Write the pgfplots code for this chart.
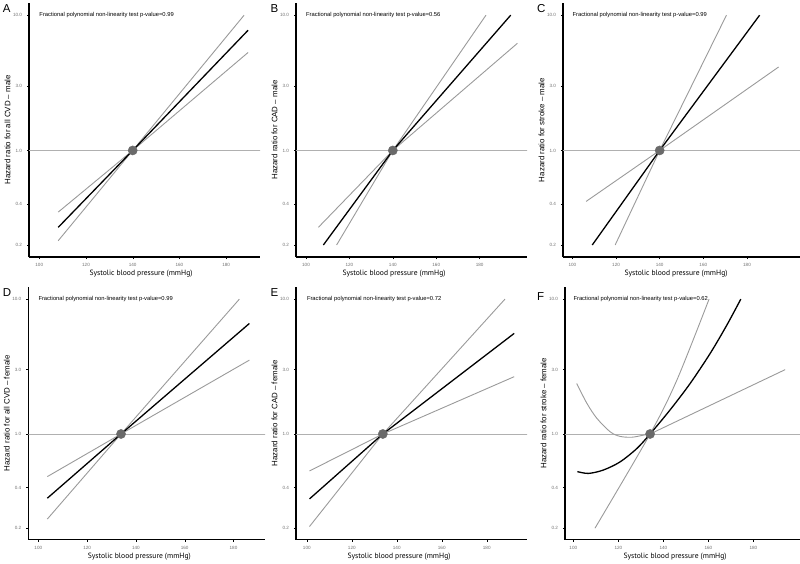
\documentclass[border=0pt]{standalone}
\usepackage{fontspec}
\setmainfont{Liberation Sans}
\newfontfamily\xlabfont{PT Sans}
\usepackage{pgfplots}
\pgfplotsset{compat=1.18}

\definecolor{cilin}{HTML}{9A9A9A}
\definecolor{reflin}{HTML}{B0B0B0}
\definecolor{refdot}{HTML}{6A6A6A}
\definecolor{ticktxt}{HTML}{707070}

\newcommand{\fptext}[1]{\node[anchor=west, inner sep=0pt, font=\fontsize{5.8}{6}\selectfont] at (axis cs:100,10) {Fractional polynomial non-linearity test p-value=#1};}

\pgfplotsset{
  every axis/.append style={
    scale only axis,
    xtick={100,120,140,160,180}, xticklabels={100,120,140,160,180},
    axis x line*=bottom, axis y line*=left,
    axis line style={line width=1.1pt},
    tick align=outside, major tick length=2pt,
    tick style={black, line width=0.4pt},
    ticklabel style={font=\fontsize{4.6}{5}\selectfont, text=ticktxt},
    yticklabel style={xshift=-1.5pt},
    xticklabel style={yshift=-1pt},
  },
  every axis y label/.style={at={(axis description cs:0,0.5)}, xshift=-21.5pt, anchor=center, rotate=90, font=\fontsize{7.9}{9}\selectfont},
  every axis x label/.style={at={(axis description cs:0,0)}, anchor=center, yshift=-17pt, font=\xlabfont\fontsize{7.6}{9}\selectfont},
  refl/.style={reflin, line width=0.9pt},
  cil/.style={cilin, line width=0.9pt},
  est/.style={black, line width=1.3pt},
  refdotst/.style={only marks, mark=*, mark size=4.6pt, mark options={fill=refdot, draw=refdot}},
}

\begin{document}
\begin{tikzpicture}
\useasboundingbox (0pt,0pt) rectangle (800pt,-563pt);

% A
\begin{axis}[anchor=south west, at={(29pt,-257pt)}, width=231pt, height=254pt,
  ymode=log, ymin=0.163, ymax=12.3, ytick={0.2,0.4,1,3,10}, yticklabels={0.2,0.4,1.0,3.0,10.0},
  xmin=95.6, xmax=194.5,
  ylabel={Hazard ratio for all CVD -- male}, xlabel={Systolic blood pressure (mmHg)}, xlabel style={xshift=112pt}]
\addplot[refl] coordinates {(90,1) (210,1)};
\addplot[cil] coordinates {(108.1,0.35) (140,1) (189.4,5.3)};
\addplot[cil] coordinates {(108.1,0.215) (140,1) (187.7,10)};
\addplot[est] coordinates {(108.1,0.27) (140,1) (189.4,7.74)};
\addplot[refdotst] coordinates {(140,1)};
\fptext{0.99}
\end{axis}

% B
\begin{axis}[anchor=south west, at={(296pt,-257pt)}, width=231pt, height=254pt,
  ymode=log, ymin=0.163, ymax=12.3, ytick={0.2,0.4,1,3,10}, yticklabels={0.2,0.4,1.0,3.0,10.0},
  xmin=95.4, xmax=201.8,
  ylabel={Hazard ratio for CAD -- male}, xlabel={Systolic blood pressure (mmHg)}, xlabel style={xshift=98pt}]
\addplot[refl] coordinates {(90,1) (210,1)};
\addplot[cil] coordinates {(105.7,0.27) (140,1) (197.4,6.2)};
\addplot[cil] coordinates {(114.1,0.2) (140,1) (182.9,10)};
\addplot[est] coordinates {(108,0.2) (140,1) (194.3,10)};
\addplot[refdotst] coordinates {(140,1)};
\fptext{0.56}
\end{axis}

% C
\begin{axis}[anchor=south west, at={(563pt,-257pt)}, width=237pt, height=254pt,
  ymode=log, ymin=0.163, ymax=12.3, ytick={0.2,0.4,1,3,10}, yticklabels={0.2,0.4,1.0,3.0,10.0},
  xmin=95.7, xmax=204.3,
  ylabel={Hazard ratio for stroke -- male}, xlabel={Systolic blood pressure (mmHg)}, xlabel style={xshift=113pt}]
\addplot[refl] coordinates {(90,1) (210,1)};
\addplot[cil] coordinates {(106.3,0.42) (140,1) (194.5,4.14)};
\addplot[cil] coordinates {(119.6,0.2) (140,1) (170.6,10)};
\addplot[est] coordinates {(109.1,0.2) (140,1) (185.8,10)};
\addplot[refdotst] coordinates {(140,1)};
\fptext{0.99}
\end{axis}

% D
\begin{axis}[anchor=south west, at={(28.3pt,-539.5pt)}, width=236.7pt, height=252.5pt,
  ymode=log, ymin=0.165, ymax=12.3, ytick={0.2,0.4,1,3,10}, yticklabels={0.2,0.4,1.0,3.0,10.0},
  xmin=95.9, xmax=192.9,
  ylabel={Hazard ratio for all CVD -- female}, xlabel={Systolic blood pressure (mmHg)}, xlabel style={xshift=111pt}]
\addplot[refl] coordinates {(90,1) (210,1)};
\addplot[cil] coordinates {(103.7,0.483) (133.9,1) (186.5,3.53)};
\addplot[cil] coordinates {(103.7,0.234) (133.9,1) (182.4,10)};
\addplot[est] coordinates {(103.7,0.334) (133.9,1) (186.5,6.6)};
\addplot[refdotst] coordinates {(133.9,1)};
\fptext{0.99}
\end{axis}

% E
\begin{axis}[anchor=south west, at={(296pt,-539.5pt)}, width=231pt, height=252.5pt,
  ymode=log, ymin=0.165, ymax=12.3, ytick={0.2,0.4,1,3,10}, yticklabels={0.2,0.4,1.0,3.0,10.0},
  xmin=95.2, xmax=197.9,
  ylabel={Hazard ratio for CAD -- female}, xlabel={Systolic blood pressure (mmHg)}, xlabel style={xshift=103pt}]
\addplot[refl] coordinates {(90,1) (210,1)};
\addplot[cil] coordinates {(101.2,0.532) (133.8,1) (192.2,2.66)};
\addplot[cil] coordinates {(101.2,0.206) (133.8,1) (188.1,10)};
\addplot[est] coordinates {(101.2,0.33) (133.8,1) (192.2,5.57)};
\addplot[refdotst] coordinates {(133.8,1)};
\fptext{0.72}
\end{axis}

% F
\begin{axis}[anchor=south west, at={(565pt,-539.5pt)}, width=235pt, height=252.5pt,
  ymode=log, ymin=0.165, ymax=12.3, ytick={0.2,0.4,1,3,10}, yticklabels={0.2,0.4,1.0,3.0,10.0},
  xmin=96.3, xmax=200.7,
  ylabel={Hazard ratio for stroke -- female}, xlabel={Systolic blood pressure (mmHg)}, xlabel style={xshift=110pt}]
\addplot[refl] coordinates {(90,1) (210,1)};
\addplot[cil, smooth] coordinates {(101.5,2.37) (106,1.69) (110.4,1.31) (116.3,1.04) (120.7,0.96) (126,0.946) (131.1,0.98) (134.1,1)};
\addplot[cil] coordinates {(134.1,1) (194.1,3.0)};
\addplot[cil, smooth] coordinates {(109.6,0.2) (134.1,1) (146,2.51) (160.3,10)};
\addplot[est, smooth] coordinates {(101.8,0.526) (106.7,0.51) (113.3,0.54) (120.7,0.62) (128.2,0.78) (134.1,1) (143,1.51) (151.9,2.37) (160.8,3.96) (168.2,6.42) (174.4,10)};
\addplot[refdotst] coordinates {(134.1,1)};
\fptext{0.62}
\end{axis}

% panel letters
\node[anchor=north west, inner sep=0pt, font=\fontsize{11.5}{12}\selectfont] at (2.7pt,-4.5pt) {A};
\node[anchor=north west, inner sep=0pt, font=\fontsize{11.5}{12}\selectfont] at (270.5pt,-4.5pt) {B};
\node[anchor=north west, inner sep=0pt, font=\fontsize{11.5}{12}\selectfont] at (537pt,-4.5pt) {C};
\node[anchor=north west, inner sep=0pt, font=\fontsize{11.5}{12}\selectfont] at (2.7pt,-288pt) {D};
\node[anchor=north west, inner sep=0pt, font=\fontsize{11.5}{12}\selectfont] at (270.5pt,-288pt) {E};
\node[anchor=north west, inner sep=0pt, font=\fontsize{11.5}{12}\selectfont] at (537pt,-292pt) {F};
\end{tikzpicture}
\end{document}
